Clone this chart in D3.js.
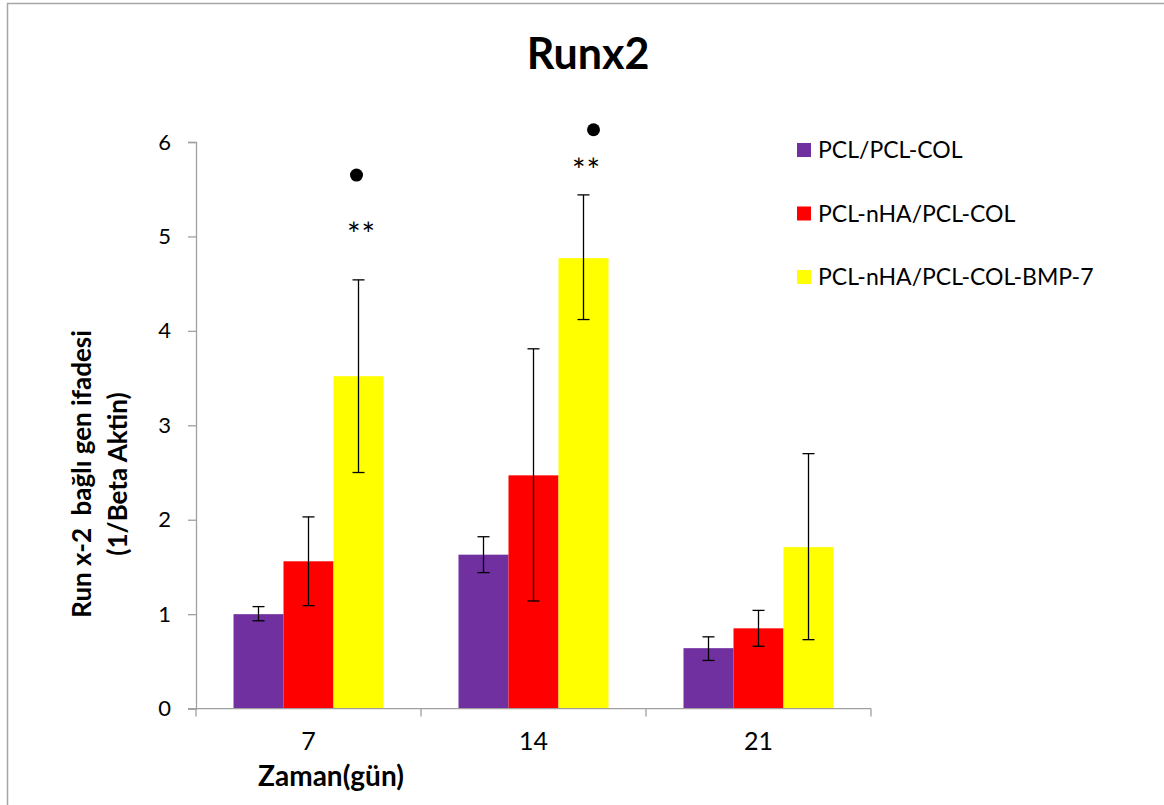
<!DOCTYPE html>
<html>
<head>
<meta charset="utf-8">
<script src="https://cdn.jsdelivr.net/npm/d3@7"></script>
<style>
  body { margin: 0; background: #fff; }
  svg { display: block; font-family: Lato, "Open Sans", sans-serif; }
</style>
</head>
<body>
<div id="chart"></div>
<script>
// data
const days = ["7", "14", "21"];
const groups = ["PCL/PCL-COL", "PCL-nHA/PCL-COL", "PCL-nHA/PCL-COL-BMP-7"];
const colors = ["#7030A0", "#FF0000", "#FFFF00"];
const means = [
  [1.00, 1.56, 3.52],   // day 7
  [1.63, 2.47, 4.77],   // day 14
  [0.64, 0.85, 1.71]    // day 21
];
const errLow = [
  [0.93, 1.09, 2.50],
  [1.44, 1.14, 4.12],
  [0.51, 0.66, 0.73]
];
const errHigh = [
  [1.08, 2.03, 4.54],
  [1.82, 3.81, 5.44],
  [0.76, 1.04, 2.70]
];
const yTicks = [0, 1, 2, 3, 4, 5, 6];
// significance marks above the BMP-7 bars
const starDay = ["7", "14"];
const starY = [5.10, 5.78];
const dotY = [5.65, 6.13];

const W = 1164, H = 805;
const plotLeft = 196, plotRight = 871, plotTop = 142, plotBottom = 708.6;

const svg = d3.select("#chart").append("svg")
  .attr("width", W)
  .attr("height", H);

// chart frame
svg.append("rect")
  .attr("x", 7.5).attr("y", 3.5)
  .attr("width", 1300).attr("height", 1000)
  .attr("fill", "none")
  .attr("stroke", "#a6a6a6")
  .attr("stroke-width", 1.5);

let y = d3.scaleLinear().domain([0, 6]).range([plotBottom, plotTop]);
let x = d3.scaleBand().domain(days).range([plotLeft, plotRight]).padding(0);
let xs = d3.scaleBand().domain(groups).range([x.bandwidth() / 6, x.bandwidth() * 5 / 6]);

// bars
let rows = [];
days.forEach((d, i) => groups.forEach((g, j) => {
  rows.push({day: d, group: g, v: means[i][j], lo: errLow[i][j], hi: errHigh[i][j], c: colors[j]});
}));

svg.append("g").selectAll("rect").data(rows).enter()
  .append("rect")
  .attr("x", d => x(d.day) + xs(d.group))
  .attr("y", d => y(d.v))
  .attr("width", xs.bandwidth())
  .attr("height", d => y(0) - y(d.v))
  .attr("fill", d => d.c);

// axes
let yAxis = svg.append("g")
  .attr("transform", `translate(${plotLeft},0)`)
  .call(d3.axisLeft(y).tickValues(yTicks).tickSize(8).tickPadding(17).tickFormat(d3.format("d")));
yAxis.select(".domain").attr("stroke", "#a0a0a0").attr("stroke-width", 1.3);
yAxis.selectAll(".tick line").attr("stroke", "#a0a0a0").attr("stroke-width", 1.3);
yAxis.selectAll(".tick text").style("font-size", "22px").attr("fill", "#000")
  .style("font-family", "Lato, sans-serif");

let xAxis = svg.append("g")
  .attr("transform", `translate(0,${plotBottom})`)
  .call(d3.axisBottom(x).tickSize(0).tickPadding(24));
xAxis.select(".domain").attr("stroke", "#a0a0a0").attr("stroke-width", 1.3)
  .attr("d", `M${plotLeft - 8},0H${plotRight}`);
xAxis.selectAll(".tick text").style("font-size", "25px").attr("fill", "#000")
  .style("font-family", "Lato, sans-serif");
// category separators
svg.append("g").selectAll("line").data(days.concat(["end"])).enter()
  .append("line")
  .attr("x1", (d, i) => plotLeft + i * x.bandwidth())
  .attr("x2", (d, i) => plotLeft + i * x.bandwidth())
  .attr("y1", plotBottom).attr("y2", plotBottom + 8)
  .attr("stroke", "#a0a0a0").attr("stroke-width", 1.3);

// error bars
let eb = svg.append("g").attr("stroke", "#000").attr("stroke-width", 1.3);
rows.forEach(d => {
  const cx = x(d.day) + xs(d.group) + xs.bandwidth() / 2;
  eb.append("line").attr("x1", cx).attr("x2", cx).attr("y1", y(d.lo)).attr("y2", y(d.hi));
  eb.append("line").attr("x1", cx - 6).attr("x2", cx + 6).attr("y1", y(d.lo)).attr("y2", y(d.lo));
  eb.append("line").attr("x1", cx - 6).attr("x2", cx + 6).attr("y1", y(d.hi)).attr("y2", y(d.hi));
});

// significance marks
const lastGroup = groups[2];
starDay.forEach((d, i) => {
  const cx = x(d) + xs(lastGroup) + xs.bandwidth() / 2;
  svg.append("text")
    .attr("x", cx + 3).attr("y", y(starY[i]) + 19)
    .attr("text-anchor", "middle")
    .style("font-size", "32px")
    .style("letter-spacing", "1px")
    .text("**");
  svg.append("circle")
    .attr("cx", cx + (i === 0 ? -2 : 10)).attr("cy", y(dotY[i]))
    .attr("r", 6.5).attr("fill", "#000");
});

// title
svg.append("text")
  .attr("x", 588).attr("y", 69)
  .attr("text-anchor", "middle")
  .style("font-size", "43px").style("font-weight", "bold")
  .text("Runx2");

// axis titles
svg.append("text")
  .attr("x", 331).attr("y", 786)
  .attr("text-anchor", "middle")
  .style("font-size", "28px").style("font-weight", "bold")
  .text("Zaman(gün)");

let yt = svg.append("text")
  .attr("transform", `translate(91,${474})rotate(-90)`)
  .attr("text-anchor", "middle")
  .style("font-size", "26px").style("font-weight", "bold");
yt.append("tspan").attr("x", 0).attr("y", 0).text("Run x-2\u00a0 bağlı gen ifadesi");
yt.append("tspan").attr("x", 0).attr("y", 36).text("(1/Beta Aktin)");

// legend
let legend = svg.append("g").selectAll("g").data(groups).enter()
  .append("g")
  .attr("transform", (d, i) => `translate(797,${150 + i * 63.5})`);
legend.append("rect")
  .attr("x", 0).attr("y", -7)
  .attr("width", 14).attr("height", 14)
  .attr("fill", (d, i) => colors[i]);
legend.append("text")
  .attr("x", 21).attr("y", 8)
  .style("font-size", "23px")
  .text(d => d);
</script>
</body>
</html>
